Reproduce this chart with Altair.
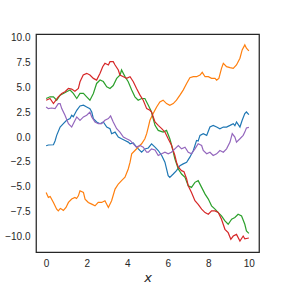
import altair as alt
import pandas as pd

# Five random-walk series
x_blue = [0, 0.11, 0.36, 0.44, 0.52, 0.69, 0.85, 1.01, 1.18, 1.26, 1.34, 1.51, 1.67, 1.84, 2.0, 2.16, 2.25, 2.33,
          2.49, 2.66, 2.82, 2.99, 3.15, 3.23, 3.4, 3.56, 3.72, 3.89, 4.05, 4.14, 4.3, 4.46, 4.71, 4.87, 5.04, 5.2,
          5.37, 5.53, 5.7, 5.86, 5.94, 6.02, 6.1, 6.27, 6.43, 6.6, 6.76, 6.93, 7.09, 7.26, 7.34, 7.42, 7.5, 7.59,
          7.75, 7.92, 8.08, 8.24, 8.41, 8.57, 8.74, 8.9, 9.07, 9.23, 9.31, 9.39, 9.56, 9.67, 9.8, 9.88, 10.0]
y_blue = [-0.88, -0.8, -0.78, -0.4, 0.17, 1.01, 1.35, 1.69, 1.86, 2.2, 2.05, 2.7, 3.14, 3.21, 3.04, 2.87, 2.53, 1.86,
          1.52, 1.35, 1.52, 1.01, 0.84, 0.34, 0.5, 0.0, -0.17, -0.34, -0.51, -0.68, -0.6, -1.02, -1.53, -1.2, -1.1, -0.68,
          -1.02, -1.36, -1.86, -2.54, -3.22, -3.89, -4.07, -3.73, -3.39, -2.88, -2.71, -2.54, -2.03, -1.36, -0.85, -0.34, -0.4, 0.17,
          0.34, 0.17, 1.01, 1.18, 1.01, 0.84, 1.01, 1.01, 1.18, 1.35, 1.15, 1.52, 1.01, 1.69, 2.37, 2.53, 2.26]

x_orange = [0, 0.11, 0.2, 0.36, 0.52, 0.6, 0.7, 0.77, 0.85, 0.98, 1.1, 1.26, 1.42, 1.5, 1.59, 1.67, 1.84, 1.92, 2.08,
            2.25, 2.41, 2.57, 2.74, 2.9, 3.07, 3.23, 3.4, 3.56, 3.72, 3.89, 4.05, 4.14, 4.22, 4.38, 4.54, 4.71, 4.87,
            4.96, 5.04, 5.12, 5.28, 5.45, 5.61, 5.77, 5.94, 6.1, 6.27, 6.43, 6.6, 6.76, 6.93, 7.09, 7.26, 7.42, 7.59,
            7.7, 7.84, 8.0, 8.16, 8.33, 8.41, 8.52, 8.65, 8.74, 8.9, 9.07, 9.23, 9.39, 9.56, 9.67, 9.8, 9.88, 10.0]
y_orange = [-5.59, -6.09, -6.0, -6.6, -7.28, -7.45, -7.2, -7.28, -7.4, -7.11, -6.6, -6.26, -6.09, -6.2, -5.93, -5.42, -5.59, -6.26, -6.6,
            -6.77, -6.94, -6.6, -6.6, -6.43, -7.11, -6.43, -5.25, -4.74, -4.4, -4.06, -3.22, -2.54, -1.69, -1.36, -1.02, -0.68, -0.17,
            0.34, 1.01, 1.69, 2.37, 3.04, 3.55, 3.72, 3.38, 3.21, 3.38, 3.72, 4.23, 4.74, 5.41, 5.99, 6.09, 6.09, 6.26,
            6.53, 6.09, 6.09, 5.92, 5.92, 5.75, 5.92, 6.93, 7.44, 7.1, 7.0, 6.93, 7.27, 7.95, 8.8, 9.3, 8.96, 8.69]

x_green = [0, 0.19, 0.36, 0.52, 0.69, 0.85, 1.01, 1.18, 1.34, 1.51, 1.67, 1.84, 2.0, 2.16, 2.33, 2.49, 2.66, 2.82,
           2.99, 3.15, 3.31, 3.48, 3.65, 3.72, 3.89, 4.05, 4.22, 4.38, 4.54, 4.71, 4.87, 5.04, 5.2, 5.28, 5.37, 5.53,
           5.77, 5.94, 6.1, 6.18, 6.35, 6.52, 6.68, 6.85, 7.01, 7.17, 7.34, 7.5, 7.67, 7.84, 8.0, 8.16, 8.33, 8.49,
           8.65, 8.82, 8.98, 9.15, 9.31, 9.47, 9.64, 9.8, 9.88, 10.0]
y_green = [3.89, 4.06, 4.06, 3.72, 4.23, 4.4, 4.57, 4.74, 4.4, 3.89, 4.4, 4.4, 4.06, 3.72, 4.4, 5.41, 5.75, 5.6,
           5.07, 4.9, 5.2, 5.92, 6.26, 6.77, 6.1, 5.58, 4.74, 4.06, 3.72, 3.89, 3.89, 3.21, 2.53, 1.86, 1.18, 0.67,
           0.5, 0.67, -0.17, -0.75, -2.2, -3.22, -3.73, -4.07, -4.91, -5.08, -4.57, -4.4, -5.08, -5.76, -6.26, -6.94, -7.28, -7.62,
           -7.96, -8.46, -8.8, -8.29, -8.12, -7.79, -7.96, -8.8, -9.48, -9.72]

x_red = [0, 0.19, 0.36, 0.6, 0.77, 0.93, 1.1, 1.26, 1.42, 1.59, 1.67, 1.83, 2.0, 2.16, 2.33, 2.49, 2.66, 2.79, 2.9,
         3.07, 3.15, 3.31, 3.4, 3.56, 3.64, 3.81, 3.97, 4.14, 4.3, 4.46, 4.63, 4.79, 4.96, 5.12, 5.2, 5.37, 5.53,
         5.7, 5.86, 6.02, 6.18, 6.35, 6.43, 6.52, 6.68, 6.8, 6.93, 7.01, 7.17, 7.34, 7.5, 7.67, 7.84, 8.0, 8.16,
         8.33, 8.49, 8.65, 8.82, 8.98, 9.11, 9.23, 9.39, 9.56, 9.72, 9.8, 10.0]
y_red = [3.72, 3.89, 3.38, 4.06, 4.4, 4.57, 4.9, 4.84, 4.63, 4.9, 5.58, 6.26, 6.43, 6.26, 5.92, 5.75, 6.43, 7.1, 7.44,
         7.27, 7.61, 7.61, 7.27, 6.77, 6.26, 6.09, 5.92, 6.09, 5.58, 4.9, 4.23, 3.72, 2.87, 2.7, 2.53, 1.52, 1.18,
         0.85, 0.5, -0.17, -0.8, -1.86, -2.54, -3.05, -3.39, -3.5, -4.23, -4.91, -5.59, -6.43, -6.8, -7.28, -7.62, -7.79, -7.45,
         -7.45, -7.62, -8.29, -9.31, -9.65, -10.32, -9.99, -9.82, -10.49, -9.99, -10.26, -10.19]

x_purple = [0, 0.11, 0.27, 0.44, 0.6, 0.69, 0.77, 0.93, 1.1, 1.26, 1.34, 1.51, 1.67, 1.84, 2.0, 2.16, 2.25, 2.41,
            2.57, 2.74, 2.9, 3.07, 3.18, 3.31, 3.48, 3.64, 3.81, 3.97, 4.14, 4.3, 4.46, 4.63, 4.79, 4.96, 5.04, 5.2,
            5.37, 5.53, 5.7, 5.86, 6.02, 6.18, 6.35, 6.52, 6.68, 6.85, 7.01, 7.17, 7.34, 7.5, 7.67, 7.75, 7.92, 8.08,
            8.24, 8.41, 8.57, 8.74, 8.9, 9.07, 9.18, 9.31, 9.39, 9.56, 9.72, 9.8, 9.88, 10.0]
y_purple = [3.04, 2.87, 2.93, 2.87, 3.38, 3.38, 2.87, 2.2, 1.35, 1.01, 1.35, 2.03, 1.69, 2.03, 2.2, 2.53, 2.03, 1.52,
            1.35, 1.35, 1.69, 1.86, 2.13, 1.52, 0.84, 0.5, 0.0, -0.17, -0.34, -0.68, -1.02, -0.85, -1.02, -1.53, -1.53, -1.19,
            -1.3, -1.86, -1.69, -1.53, -1.7, -1.53, -1.19, -0.85, -1.19, -1.02, -1.53, -1.69, -1.19, -0.68, -0.85, -1.36, -1.69, -1.53,
            -1.86, -1.69, -1.36, -1.53, -1.19, -0.51, 0.34, 0.0, -0.51, -0.17, 0.17, 0.5, 0.91, 0.98]

series = ["a", "b", "c", "d", "e"]
colors = ["#1f77b4", "#ff7f0e", "#2ca02c", "#d62728", "#9467bd"]
xs = [x_blue, x_orange, x_green, x_red, x_purple]
ys = [y_blue, y_orange, y_green, y_red, y_purple]

rows = []
for s, xv, yv in zip(series, xs, ys):
    for i, (a, b) in enumerate(zip(xv, yv)):
        rows.append({"s": s, "x": a, "y": b, "i": i})
df = pd.DataFrame(rows)

x_ticks = [0, 2, 4, 6, 8, 10]
y_ticks = [-10, -7.5, -5, -2.5, 0, 2.5, 5, 7.5, 10]

chart = alt.Chart(df).mark_line(strokeWidth=1.2).encode(
    x=alt.X("x:Q", scale=alt.Scale(domain=[-0.5, 10.5], nice=False, zero=False),
            axis=alt.Axis(values=x_ticks, title="x", format="d", labelPadding=6,
                          titleFont="DejaVu Sans", titleFontStyle="italic", titleFontWeight="normal",
                          titleFontSize=13, titlePadding=3, titleColor="#262626")),
    y=alt.Y("y:Q", scale=alt.Scale(domain=[-11.6, 10.4], nice=False, zero=False),
            axis=alt.Axis(values=y_ticks, title=None, format=".1f", labelPadding=6)),
    color=alt.Color("s:N", scale=alt.Scale(domain=series, range=colors), legend=None),
    order="i:Q",
).properties(
    width=223, height=218,
    autosize=alt.AutoSizeParams(type="none"),
    padding={"left": 36, "top": 34, "right": 29, "bottom": 36},
    background="white",
).configure_axis(
    grid=False, ticks=False, domain=False,
    labelFont="Liberation Sans", labelFontSize=10, labelColor="#262626",
).configure_view(
    stroke="#262626", strokeWidth=1.25,
)

chart.save("out.html", embed_options={"renderer": "svg", "actions": False})
